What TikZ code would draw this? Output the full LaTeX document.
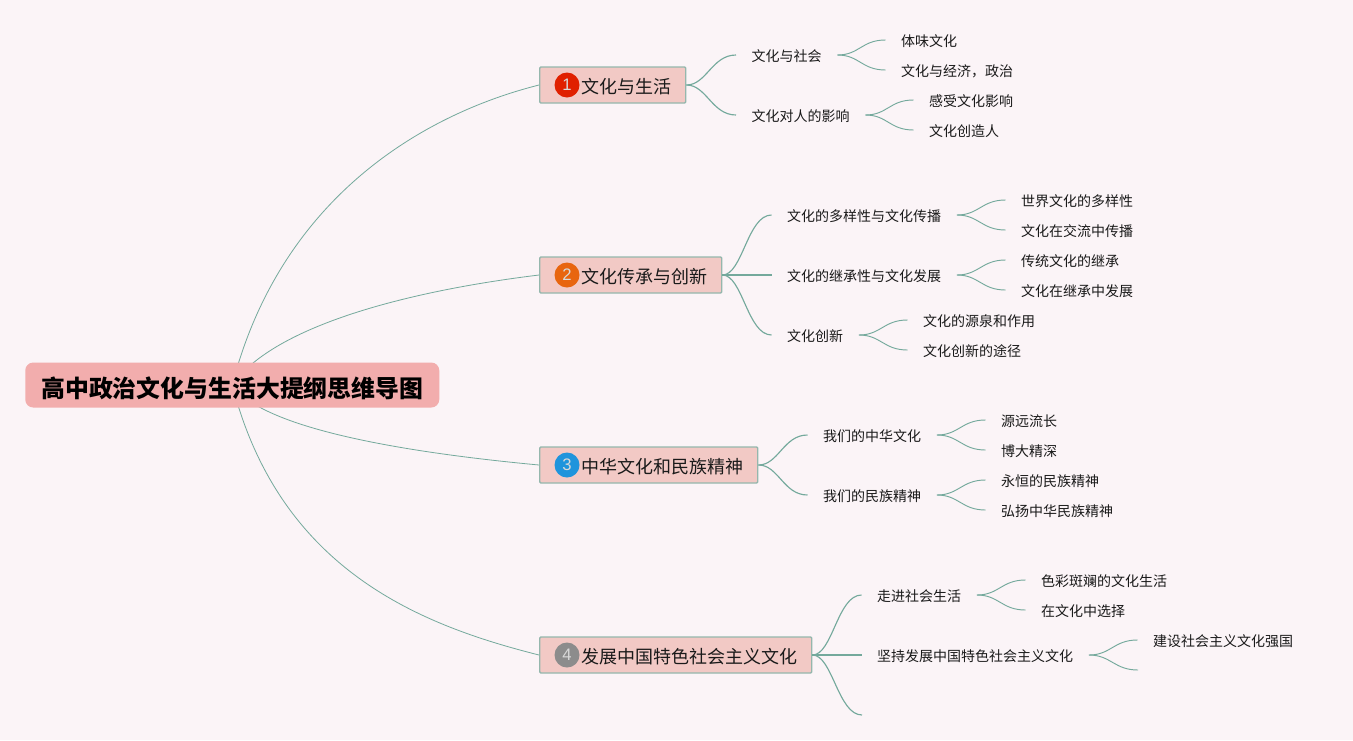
\documentclass[tikz,border=0pt]{standalone}
\usepackage{fontspec}
\setmainfont{Noto Sans CJK SC}
\setsansfont{Liberation Sans}
\usetikzlibrary{backgrounds,calc}
\definecolor{bgc}{HTML}{FBF4F7}
\definecolor{rootc}{HTML}{F2ADAD}
\definecolor{mainc}{HTML}{F2C9C5}
\definecolor{edgec}{HTML}{95B7AD}
\definecolor{linec}{HTML}{74A99C}
\definecolor{txtc}{HTML}{1A1A1A}
\definecolor{b1}{HTML}{E02000}
\definecolor{b2}{HTML}{E8650F}
\definecolor{b3}{HTML}{1F94DC}
\definecolor{b4}{HTML}{8C8C8C}
\tikzset{
  rootbox/.style={fill=rootc,rounded corners=6pt,text=black,font=\fontsize{17.9pt}{22pt}\selectfont\bfseries,inner xsep=0pt,inner ysep=0pt,minimum width=310.5pt,minimum height=33.75pt,anchor=west,text height=18pt,text depth=0pt},
  mainbox/.style={fill=mainc,draw=edgec,line width=1.1pt,rounded corners=0.8pt,text=txtc,font=\fontsize{13.5pt}{16pt}\selectfont,inner xsep=10.7pt,inner ysep=0pt,minimum height=27pt,anchor=west,text height=13pt,text depth=0.6pt},
  subnode/.style={text=txtc,font=\fontsize{10.5pt}{13pt}\selectfont,inner xsep=11.6pt,inner ysep=0pt,anchor=west,text height=10pt,text depth=0.5pt},
  badge/.style={circle,minimum size=18.75pt,inner sep=0pt,text=white!85!black,font=\sffamily\fontsize{12.5pt}{12.5pt}\selectfont},
  wire/.style={draw=linec,line width=0.6pt},
  wirea/.style={draw=linec,line width=0.85pt},
  wireb/.style={draw=linec,line width=0.7pt}
}
\newcommand{\mainlead}{\hspace*{20.6pt}}
\newcommand{\wa}[2]{\draw[wirea] (#1.east) .. controls +(20,0) and +(-24,0) .. (#2.west);}
\newcommand{\wb}[2]{\draw[wireb] (#1.east) .. controls +(22,0) and +(-24,0) .. (#2.west);}
\begin{document}
\begin{tikzpicture}[x=0.75pt,y=-0.75pt]
\useasboundingbox (0,0) rectangle (1353,740);
\node[rootbox] (root) at (25,385) {高中政治文化与生活大提纲思维导图};
% main topics
\node[mainbox] (m1) at (539,85) {\mainlead 文化与生活};
\node[mainbox] (m2) at (539,275) {\mainlead 文化传承与创新};
\node[mainbox] (m3) at (539,465) {\mainlead 中华文化和民族精神};
\node[mainbox] (m4) at (539,655) {\mainlead 发展中国特色社会主义文化};
\node[badge,fill=b1] (g1) at ($(m1.west)+(28,0)$) {1};
\node[badge,fill=b2] (g2) at ($(m2.west)+(28,0)$) {2};
\node[badge,fill=b3] (g3) at ($(m3.west)+(28,0)$) {3};
\node[badge,fill=b4] (g4) at ($(m4.west)+(28,0)$) {4};
% level 2
\node[subnode] (a1) at (736,55) {文化与社会};
\node[subnode] (a2) at (736,115) {文化对人的影响};
\node[subnode] (b1n) at (771.5,215) {文化的多样性与文化传播};
\node[subnode] (b2n) at (771.5,275) {文化的继承性与文化发展};
\node[subnode] (b3n) at (771.5,335) {文化创新};
\node[subnode] (c1) at (807.5,435) {我们的中华文化};
\node[subnode] (c2) at (807.5,495) {我们的民族精神};
\node[subnode] (d1) at (861.5,595) {走进社会生活};
\node[subnode] (d2) at (861.5,655) {坚持发展中国特色社会主义文化};
\coordinate (d3) at (862,715);
% level 3
\node[subnode] (a11) at (885.5,40) {体味文化};
\node[subnode] (a12) at (885.5,70) {文化与经济，政治};
\node[subnode] (a21) at (913.5,100) {感受文化影响};
\node[subnode] (a22) at (913.5,130) {文化创造人};
\node[subnode] (b11) at (1005.5,200) {世界文化的多样性};
\node[subnode] (b12) at (1005.5,230) {文化在交流中传播};
\node[subnode] (b21) at (1005.5,260) {传统文化的继承};
\node[subnode] (b22) at (1005.5,290) {文化在继承中发展};
\node[subnode] (b31) at (907.5,320) {文化的源泉和作用};
\node[subnode] (b32) at (907.5,350) {文化创新的途径};
\node[subnode] (c11) at (985.5,420) {源远流长};
\node[subnode] (c12) at (985.5,450) {博大精深};
\node[subnode] (c21) at (985.5,480) {永恒的民族精神};
\node[subnode] (c22) at (985.5,510) {弘扬中华民族精神};
\node[subnode] (d11) at (1025.5,580) {色彩斑斓的文化生活};
\node[subnode] (d12) at (1025.5,610) {在文化中选择};
\node[subnode] (d21) at (1137.5,640) {建设社会主义文化强国};
\coordinate (d22) at (1138,670);
\begin{pgfonlayer}{background}
\fill[bgc] (0,0) rectangle (1353,740);
\draw[wire] (root.center) .. controls (280,200) and (420,115) .. (m1.west);
\draw[wire] (root.center) .. controls (272,328) and (400,292) .. (m2.west);
\draw[wire] (root.center) .. controls (262,428) and (400,452) .. (m3.west);
\draw[wire] (root.center) .. controls (280,570) and (420,625) .. (m4.west);
\end{pgfonlayer}
\wa{m1}{a1}\wa{m1}{a2}
\wa{m2}{b1n}\wa{m2}{b3n}\draw[wirea] (m2.east) -- (b2n.west);
\wa{m3}{c1}\wa{m3}{c2}
\wa{m4}{d1}\draw[wirea] (m4.east) -- (d2.west);
\draw[wirea] (m4.east) .. controls +(20,0) and +(-24,0) .. (d3);
\wb{a1}{a11}\wb{a1}{a12}\wb{a2}{a21}\wb{a2}{a22}
\wb{b1n}{b11}\wb{b1n}{b12}\wb{b2n}{b21}\wb{b2n}{b22}\wb{b3n}{b31}\wb{b3n}{b32}
\wb{c1}{c11}\wb{c1}{c12}\wb{c2}{c21}\wb{c2}{c22}
\wb{d1}{d11}\wb{d1}{d12}\wb{d2}{d21}
\draw[wireb] (d2.east) .. controls +(22,0) and +(-24,0) .. (d22);
\end{tikzpicture}
\end{document}
